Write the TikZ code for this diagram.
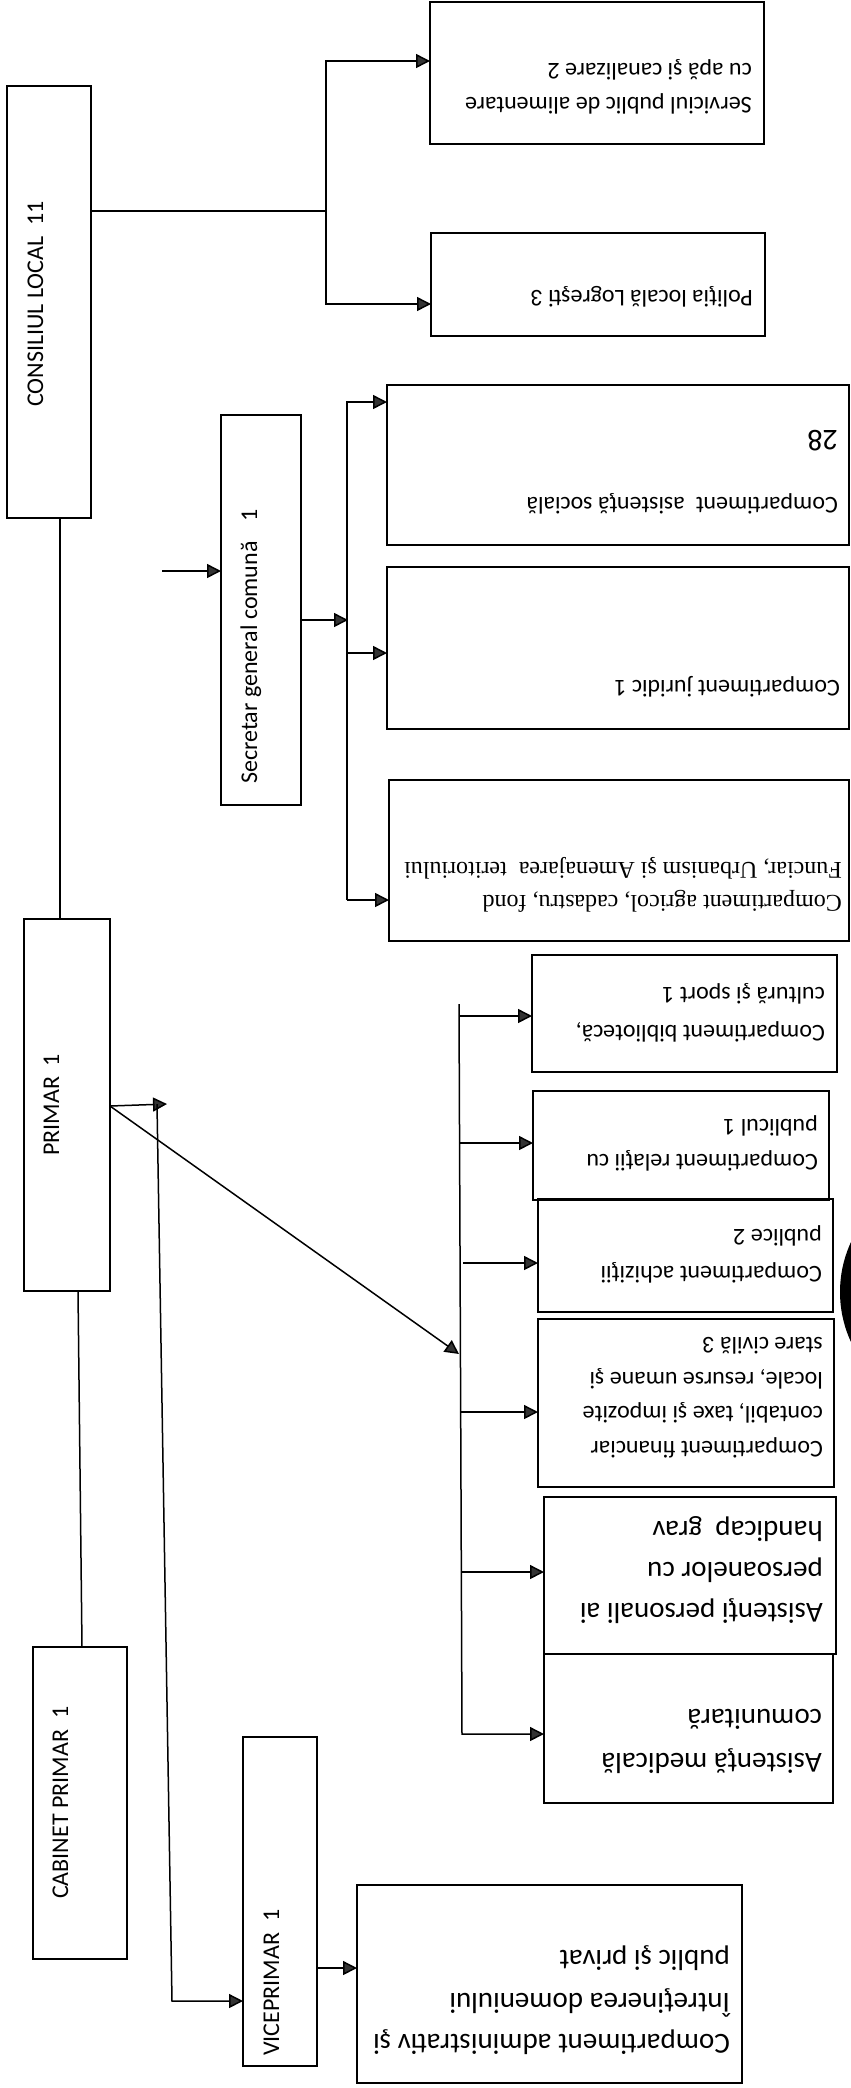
\documentclass[tikz,border=0pt]{standalone}
\usepackage{fontspec}
\setmainfont{Carlito}
\newfontfamily\tnrfont{Liberation Serif}
\usetikzlibrary{arrows.meta}
\newcommand{\obox}[5]{\node[box, minimum width={(#4)-(#2)}, minimum height={(#5)-(#3)}] (#1) at ({((#2)+(#4))/2},{((#3)+(#5))/2}) {};}
\begin{document}
\begin{tikzpicture}[x=1pt,y=-1pt,
  box/.style={draw, line width=1.8pt, inner sep=0pt, outer sep=0pt, rectangle},
  ln/.style={line width=1.5pt},
  arr/.style={line width=1.5pt, -{Triangle[length=14pt,width=14pt,fill=black!80]}},
  ut/.style={rotate=180, anchor=base west, inner sep=0pt, font=\fontsize{24}{28}\selectfont},
  utb/.style={rotate=180, anchor=base west, inner sep=0pt, font=\fontsize{29}{34}\selectfont},
  uts/.style={rotate=180, anchor=base west, inner sep=0pt, font=\tnrfont\fontsize{24}{28}\selectfont},
  vt/.style={rotate=90, anchor=base west, inner sep=0pt, font=\fontsize{24}{28}\selectfont}]
\useasboundingbox (0,0) rectangle (851,2088);
\fill[white] (0,0) rectangle (851,2088);

% boxes
\obox{cons}{7}{86}{91}{518}
\obox{serv}{430}{2}{764}{144}
\obox{pol}{431}{233}{765}{336}
\obox{sec}{221}{415}{301}{805}
\obox{asoc}{387}{385}{849}{545}
\obox{jur}{387}{567}{849}{729}
\obox{agr}{389}{780}{849}{941}
\obox{bib}{532}{955}{837}{1072}
\obox{rel}{533}{1091}{829}{1200}
\obox{ach}{538}{1199}{833}{1312}
\obox{fin}{538}{1319}{834}{1487}
\obox{hand}{544}{1497}{836}{1654}
\obox{amed}{544}{1654}{833}{1803}
\obox{prim}{24}{919}{110}{1291}
\obox{cab}{33}{1647}{127}{1959}
\obox{vice}{243}{1737}{317}{2066}
\obox{adm}{357}{1885}{742}{2083}

% rotated labels (reading upward)
\node[vt] (tcons) at (43,407) {CONSILIUL LOCAL~~11};
\node[vt] (tsec) at (257,784) {Secretar general comună\hspace{20pt}1};
\node[vt] (tprim) at (59,1156) {PRIMAR~~1};
\node[vt] (tcab) at (68,1899) {CABINET PRIMAR~~1};
\node[vt] (tvice) at (279,2056) {VICEPRIMAR~~1};

% upside-down labels
\node[ut] (tserv1) at (752,97) {Serviciul public de alimentare};
\node[ut] (tserv2) at (752,63) {cu apă şi canalizare 2};
\node[ut] (tpol) at (753,290) {Poliţia locală Logreşti 3};
\node[ut] (tasoc1) at (838,497) {Compartiment~~asistenţă socială};
\node[ut, font=\fontsize{30}{34}\selectfont] (tasoc2) at (838,430) {28};
\node[ut] (tjur) at (840,680) {Compartiment juridic 1};
\node[uts] (tagr1) at (842,895) {Compartiment agricol, cadastru, fond};
\node[uts] (tagr2) at (842,862) {Funciar, Urbanism şi Amenajarea~~teritoriului};
\node[ut] (tbib1) at (825,1025) {Compartiment bibliotecă,};
\node[ut] (tbib2) at (825,987) {cultură şi sport 1};
\node[ut] (trel1) at (818,1154) {Compartiment relaţii cu};
\node[ut] (trel2) at (818,1119) {publicul 1};
\node[ut] (tach1) at (822,1266) {Compartiment achiziţii};
\node[ut] (tach2) at (822,1229) {publice 2};
\node[ut] (tfin1) at (823,1441) {Compartiment financiar};
\node[ut] (tfin2) at (823,1406) {contabil, taxe şi impozite};
\node[ut] (tfin3) at (823,1372) {locale, resurse umane şi};
\node[ut] (tfin4) at (823,1337) {stare civilă 3};
\node[utb] (thand1) at (823,1603) {Asistenţi personali ai};
\node[utb] (thand2) at (823,1562) {persoanelor cu};
\node[utb] (thand3) at (823,1521) {handicap~~grav};
\node[utb] (tamed1) at (822,1753) {Asistenţă medicală};
\node[utb] (tamed2) at (822,1709) {comunitară};
\node[utb] (tadm1) at (730,2034) {Compartiment administrativ şi};
\node[utb] (tadm2) at (730,1993) {Întreţinerea domeniului};
\node[utb] (tadm3) at (730,1950) {public şi privat};

% connectors: Consiliul local
\coordinate (j1) at (326,211);
\coordinate (y1) at (0,61);
\coordinate (y2) at (0,304);
\draw[ln] (cons.east |- j1) -- (j1);
\draw[arr] (j1) |- (serv.west |- y1);
\draw[arr] (j1) |- (pol.west |- y2);
\coordinate (x60) at (60,0);
\draw[ln] (cons.south -| x60) -- (prim.north -| x60);

% Secretar
\coordinate (s0) at (162,571);
\draw[arr] (s0) -- (sec.west |- s0);
\coordinate (s1) at (348,620);
\draw[arr] (sec.east |- s1) -- (s1);
\coordinate (sv1) at (347,402);
\coordinate (sv2) at (347,900);
\coordinate (sv3) at (347,653);
\draw[arr] (sv2) -- (sv1) -- (asoc.west |- sv1);
\draw[arr] (sv3) -- (jur.west |- sv3);
\draw[arr] (sv2) -- (agr.west |- sv2);

% Primar
\coordinate (pY) at (0,1106);
\coordinate (pa) at (167,1104);
\draw[arr] (prim.east |- pY) -- (pa);
\coordinate (vt1) at (157,1104);
\coordinate (vb1) at (172,2001);
\draw[arr] (vt1) -- (vb1) -- (vice.west |- vb1);
\coordinate (dv) at (459,1354);
\draw[arr] (prim.east |- pY) -- (dv);
\coordinate (p78) at (78,1291);
\coordinate (c82) at (82,1647);
\draw[ln] (p78) -- (c82);

% branch of compartments
\coordinate (bt) at (459,1004);
\coordinate (bb) at (462,1734);
\draw[arr] (bt) -- (bb) -- (amed.west |- bb);
\coordinate (b1) at (459,1016);
\coordinate (b2) at (460,1143);
\coordinate (b3) at (463,1263);
\coordinate (b4) at (461,1412);
\coordinate (b5) at (462,1572);
\draw[arr] (b1) -- (bib.west |- b1);
\draw[arr] (b2) -- (rel.west |- b2);
\draw[arr] (b3) -- (ach.west |- b3);
\draw[arr] (b4) -- (fin.west |- b4);
\draw[arr] (b5) -- (hand.west |- b5);

% Viceprimar
\coordinate (vY) at (0,1968);
\draw[arr] (vice.east |- vY) -- (adm.west |- vY);

% dark blot at right edge of the scan
\begin{scope}
\clip (0,0) rectangle (851,2088);
\fill[black] (959,1292) circle[radius=119];
\end{scope}
\end{tikzpicture}
\end{document}
